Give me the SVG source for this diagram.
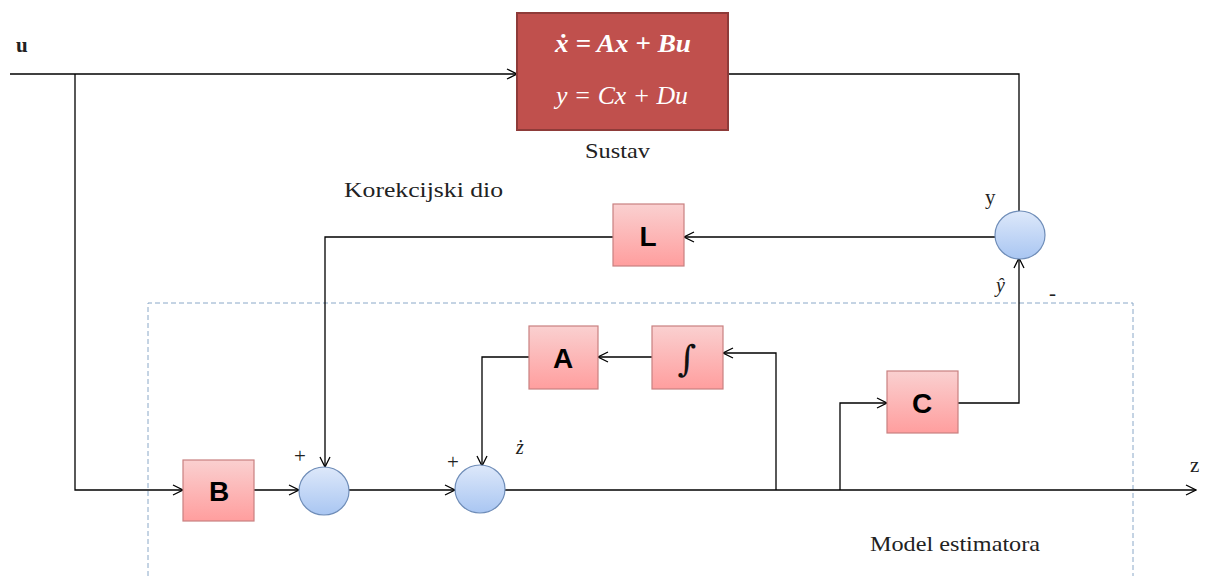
<svg xmlns="http://www.w3.org/2000/svg" width="1214" height="576" viewBox="0 0 1214 576">
<defs>
<linearGradient id="pink" x1="0" y1="0" x2="0" y2="1"><stop offset="0" stop-color="#FAD0D0"/><stop offset="1" stop-color="#FF9E9E"/></linearGradient>
<linearGradient id="blue" x1="0" y1="0" x2="0" y2="1"><stop offset="0" stop-color="#DDE8FA"/><stop offset="1" stop-color="#A9C6F2"/></linearGradient>
<marker id="arr" viewBox="0 0 12 12" refX="11" refY="6" markerWidth="12" markerHeight="12" markerUnits="userSpaceOnUse" orient="auto"><path d="M1,1 L11,6 L1,11" fill="none" stroke="#000" stroke-width="1.3"/></marker>
</defs>
<style>
.blk{fill:url(#pink);stroke:#C98080;stroke-width:1.2}
.sum{fill:url(#blue);stroke:#6F8DB8;stroke-width:1.2}
.lbl{font-family:"Liberation Sans",Arial,sans-serif;font-weight:bold;font-size:28px;fill:#000;text-anchor:middle}
.ser{font-family:"Liberation Serif","Times New Roman",serif;font-size:21px;fill:#222}
.it{font-family:"Liberation Serif","Times New Roman",serif;font-style:italic;font-size:20px;fill:#222}
.ln{fill:none;stroke:#000;stroke-width:1.3}
.eq{font-family:"Liberation Serif","Times New Roman",serif;font-style:italic;font-size:26px;fill:#FFF}
</style>
<rect width="1214" height="576" fill="#FFF"/>
<path d="M148,576 V303 H1133 V576" fill="none" stroke="#8AA8C8" stroke-width="1" stroke-dasharray="5,3"/>
<g id="connectors">
<path class="ln" d="M10,74 H517" marker-end="url(#arr)"/>
<path class="ln" d="M75,74 V490 H183" marker-end="url(#arr)"/>
<path class="ln" d="M254,490 H299" marker-end="url(#arr)"/>
<path class="ln" d="M349,490 H455" marker-end="url(#arr)"/>
<path class="ln" d="M505,490 H1196" marker-end="url(#arr)"/>
<path class="ln" d="M776,490 V353 H723" marker-end="url(#arr)"/>
<path class="ln" d="M652,357 H598" marker-end="url(#arr)"/>
<path class="ln" d="M529,357 H482 V466" marker-end="url(#arr)"/>
<path class="ln" d="M840,490 V403 H887" marker-end="url(#arr)"/>
<path class="ln" d="M958,403 H1019 V258" marker-end="url(#arr)"/>
<path class="ln" d="M728,74 H1019 V212"/>
<path class="ln" d="M995,237 H684" marker-end="url(#arr)"/>
<path class="ln" d="M613,237 H325 V467" marker-end="url(#arr)"/>
</g>
<g id="sustav">
<rect x="517" y="13" width="211" height="117" fill="#C0504D" stroke="#8E3B39" stroke-width="2"/>
<text class="eq" x="555" y="52" font-weight="bold" textLength="136" lengthAdjust="spacingAndGlyphs">ẋ = Ax + Bu</text>
<text class="eq" x="556" y="104" textLength="132" lengthAdjust="spacingAndGlyphs">y = Cx + Du</text>
<text class="ser" x="585" y="158" font-size="22" textLength="65" lengthAdjust="spacingAndGlyphs">Sustav</text>
</g>
<g id="B"><rect class="blk" x="183" y="460" width="71" height="61"/><text class="lbl" x="219" y="501">B</text></g>
<g id="A"><rect class="blk" x="529" y="326" width="69" height="63"/><text class="lbl" x="563" y="368">A</text></g>
<g id="int"><rect class="blk" x="652" y="326" width="71" height="63"/><text x="687" y="371" text-anchor="middle" font-family="DejaVu Serif, serif" font-size="36" fill="#111">∫</text></g>
<g id="C"><rect class="blk" x="887" y="371" width="71" height="62"/><text class="lbl" x="922" y="413">C</text></g>
<g id="L"><rect class="blk" x="613" y="204" width="71" height="62"/><text class="lbl" x="648" y="246">L</text></g>
<g id="sum1"><ellipse class="sum" cx="324" cy="491" rx="25" ry="24"/></g>
<g id="sum2"><ellipse class="sum" cx="480" cy="489" rx="25" ry="24"/></g>
<g id="sumy"><ellipse class="sum" cx="1020" cy="235" rx="25" ry="24"/></g>
<g id="labels">
<text class="ser" x="16" y="52" font-weight="bold" font-size="20">u</text>
<text class="ser" x="344" y="197" textLength="159" lengthAdjust="spacingAndGlyphs">Korekcijski dio</text>
<text class="ser" x="985" y="204">y</text>
<text class="it" x="996" y="292">ŷ</text>
<text class="ser" x="1049" y="300" font-size="24">-</text>
<text class="ser" x="294" y="463" font-size="22">+</text>
<text class="ser" x="447" y="469" font-size="22">+</text>
<text class="it" x="516" y="454">ż</text>
<text class="ser" x="1190" y="472">z</text>
<text class="ser" x="870" y="551" textLength="170" lengthAdjust="spacingAndGlyphs">Model estimatora</text>
</g>
</svg>
